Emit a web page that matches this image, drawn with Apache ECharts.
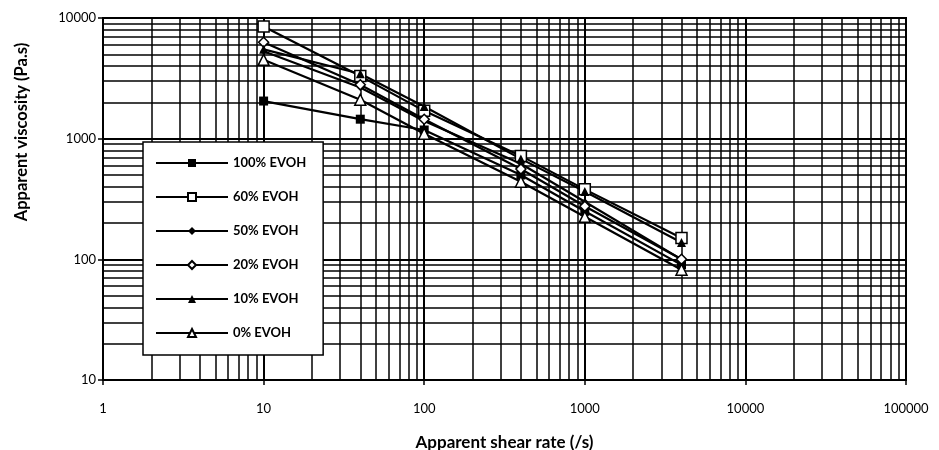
<!DOCTYPE html>
<html>
<head>
<meta charset="utf-8">
<script src="https://cdn.jsdelivr.net/npm/echarts@6/dist/echarts.min.js"></script>
<style>
  html, body { margin: 0; padding: 0; background: #fff; }
  #chart { width: 939px; height: 450px; }
</style>
</head>
<body>
<div id="chart"></div>
<script>
// Apparent shear rate (1/s) at which viscosity was measured
const shearRate = [10, 40, 100, 400, 1000, 4000];

// Apparent viscosity (Pa.s) per blend
const evoh100 = [2050, 1450, 1180, 500, 250, 90];
const evoh60 = [8500, 3300, 1700, 720, 380, 150];
const evoh50 = [5300, 2650, 1400, 620, 300, 100];
const evoh20 = [6300, 2800, 1450, 560, 275, 100];
const evoh10 = [5500, 3450, 1850, 680, 365, 138];
const evoh0 = [4500, 2100, 1100, 440, 225, 82];

// Decade tick labels
const xTicks = [1, 10, 100, 1000, 10000, 100000];
const yTicks = [10, 100, 1000, 10000];

const FONT = 'Lato, "DejaVu Sans", sans-serif';

// Minor grid positions (2..9 within each decade)
function minorValues(ticks) {
  const out = [];
  for (let i = 0; i < ticks.length - 1; i++) {
    for (let k = 2; k <= 9; k++) out.push(ticks[i] * k);
  }
  return out;
}

function pairs(values) {
  return shearRate.map((x, i) => [x, values[i]]);
}

const lineStyle = { color: '#000', width: 2.2 };

function makeSeries(name, values, symbol, size, hollow) {
  return {
    name: name,
    type: 'line',
    data: pairs(values),
    symbol: symbol,
    symbolSize: size,
    showAllSymbol: true,
    z: 5,
    lineStyle: lineStyle,
    itemStyle: {
      color: hollow ? '#fff' : '#000',
      borderColor: '#000',
      borderWidth: hollow ? 1.5 : 0
    },
    emphasis: { disabled: true },
    animation: false
  };
}

const gridSeries = {
  name: 'grid',
  type: 'line',
  data: [],
  z: 1,
  silent: true,
  animation: false,
  markLine: {
    silent: true,
    symbol: 'none',
    animation: false,
    label: { show: false },
    lineStyle: { color: '#000', width: 1.5, type: 'solid' },
    emphasis: { disabled: true },
    data: minorValues(xTicks).map(v => ({ xAxis: v }))
      .concat(minorValues(yTicks).map(v => ({ yAxis: v })))
  }
};

const chart = echarts.init(document.getElementById('chart'), null, { renderer: 'canvas' });

chart.setOption({
  backgroundColor: '#fff',
  animation: false,
  grid: {
    left: 103, right: 33, top: 18, bottom: 70,
    containLabel: false,
    outerBoundsMode: 'none',
    show: true, borderColor: '#000', borderWidth: 2, backgroundColor: 'transparent'
  },
  graphic: [{
    type: 'text',
    x: 22,
    y: 132,
    rotation: Math.PI / 2,
    style: {
      text: 'Apparent viscosity (Pa.s)',
      fontFamily: FONT,
      fontSize: 16.5,
      fontWeight: 'bold',
      fill: '#000',
      align: 'center',
      verticalAlign: 'middle'
    }
  }],
  legend: {
    orient: 'vertical',
    left: 143,
    top: 142,
    padding: [13, 17, 14, 12],
    itemGap: 18,
    itemWidth: 72,
    itemHeight: 10,
    backgroundColor: '#fff',
    borderColor: '#000',
    borderWidth: 1.5,
    borderRadius: 0,
    selectedMode: false,
    data: ['100% EVOH', '60% EVOH', '50% EVOH', '20% EVOH', '10% EVOH', '0% EVOH'],
    textStyle: { fontFamily: FONT, fontSize: 13, color: '#000', fontWeight: 'bold', lineHeight: 16 },
    z: 10
  },
  xAxis: {
    type: 'log',
    logBase: 10,
    min: xTicks[0],
    max: xTicks[xTicks.length - 1],
    splitNumber: 5,
    name: 'Apparent shear rate (/s)',
    nameLocation: 'middle',
    nameGap: 54,
    nameTextStyle: { fontFamily: FONT, fontSize: 17, fontWeight: 'bold', color: '#000' },
    axisLine: { lineStyle: { color: '#000', width: 2 } },
    axisTick: { show: true, length: 5, inside: false, lineStyle: { color: '#000', width: 1.5 } },
    axisLabel: {
      fontFamily: FONT, fontSize: 13, color: '#000', margin: 22,
      formatter: v => String(Math.round(v))
    },
    splitLine: { show: true, lineStyle: { color: '#000', width: 2 } }
  },
  yAxis: {
    type: 'log',
    logBase: 10,
    min: yTicks[0],
    max: yTicks[yTicks.length - 1],
    splitNumber: 3,
    axisLine: { lineStyle: { color: '#000', width: 2 } },
    axisTick: { show: true, length: 5, inside: false, lineStyle: { color: '#000', width: 1.5 } },
    axisLabel: {
      fontFamily: FONT, fontSize: 13, color: '#000', margin: 7,
      formatter: v => String(Math.round(v))
    },
    splitLine: { show: true, lineStyle: { color: '#000', width: 2 } }
  },
  series: [
    gridSeries,
    makeSeries('100% EVOH', evoh100, 'rect', 9, false),
    makeSeries('60% EVOH', evoh60, 'rect', 11, true),
    makeSeries('50% EVOH', evoh50, 'diamond', 7, false),
    makeSeries('20% EVOH', evoh20, 'diamond', 10, true),
    makeSeries('10% EVOH', evoh10, 'triangle', 9, false),
    makeSeries('0% EVOH', evoh0, 'triangle', 11, true)
  ]
});
</script>
</body>
</html>
